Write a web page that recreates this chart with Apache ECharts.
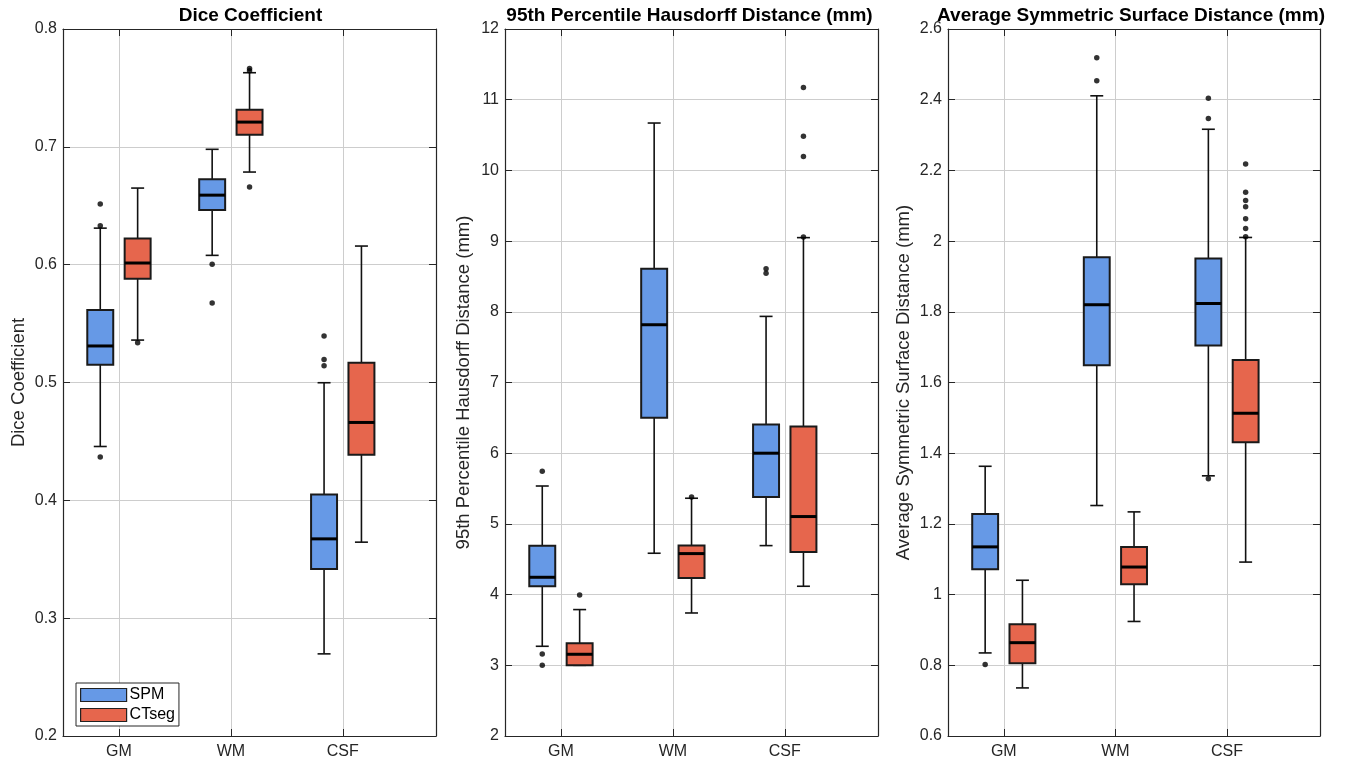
<!DOCTYPE html>
<html>
<head>
<meta charset="utf-8">
<script src="https://cdn.jsdelivr.net/npm/echarts@6/dist/echarts.min.js"></script>
<style>
html,body{margin:0;padding:0;background:#fff;}
#chart{width:1346px;height:763px;}
</style>
</head>
<body>
<div id="chart"></div>
<script>
// ---------------- data ----------------
const categories = ['GM', 'WM', 'CSF'];
const groups = ['SPM', 'CTseg'];
const titles = ['Dice Coefficient', '95th Percentile Hausdorff Distance (mm)', 'Average Symmetric Surface Distance (mm)'];
const yNames = ['Dice Coefficient', '95th Percentile Hausdorff Distance (mm)', 'Average Symmetric Surface Distance (mm)'];
const yMin = [0.2, 2, 0.6];
const yMax = [0.8, 12, 2.6];
const yStep = [0.1, 1, 0.2];

// box stats per category: [lower whisker, Q1, median, Q3, upper whisker]
const diceSPM = [[0.4457, 0.515, 0.531, 0.5615, 0.631], [0.6079, 0.6463, 0.659, 0.6724, 0.6979], [0.2697, 0.3418, 0.3673, 0.405, 0.4998]];
const diceCT = [[0.536, 0.588, 0.6014, 0.6223, 0.665], [0.6786, 0.7103, 0.721, 0.7315, 0.7629], [0.3645, 0.4386, 0.4661, 0.5167, 0.6158]];
const diceSPMOut = [[0.6514, 0.633, 0.4367], [0.6003, 0.5674], [0.5394, 0.5196, 0.5142]];
const diceCTOut = [[0.5337], [0.7665, 0.7645, 0.6659], []];

const hdSPM = [[3.269, 4.117, 4.245, 4.692, 5.536], [4.585, 6.5, 7.817, 8.61, 10.67], [4.693, 5.382, 6.0, 6.406, 7.935]];
const hdCT = [[3.0, 3.0, 3.156, 3.311, 3.788], [3.74, 4.236, 4.58, 4.693, 5.363], [4.118, 4.604, 5.104, 6.377, 9.049]];
const hdSPMOut = [[5.744, 3.16, 3.0], [], [8.61, 8.546]];
const hdCTOut = [[3.995], [5.38], [11.174, 10.483, 10.196, 9.058]];

const asSPM = [[0.835, 1.0717, 1.135, 1.2283, 1.363], [1.252, 1.649, 1.82, 1.954, 2.411], [1.336, 1.705, 1.8235, 1.951, 2.3164]];
const asCT = [[0.736, 0.806, 0.864, 0.916, 1.0406], [0.924, 1.029, 1.078, 1.135, 1.234], [1.092, 1.431, 1.513, 1.664, 2.0103]];
const asSPMOut = [[0.802], [2.519, 2.4535], [2.404, 2.347, 1.328]];
const asCTOut = [[], [], [2.218, 2.138, 2.1146, 2.097, 2.063, 2.0357, 2.012]];

// ---------------- style / layout ----------------
const BLUE = '#6699E6';
const RED = '#E6664D';
const AXIS = '#262626';
const GRIDC = '#cdcdcd';
const FONT = 'Liberation Sans, Arial, Helvetica, sans-serif';
const OFFSET = [-0.167, 0.167];
const BOX_HALF = 0.116;
const CAP_HALF = 0.058;
const grids = [
  {left: 63, top: 29, width: 373, height: 707},
  {left: 505, top: 29, width: 373, height: 707},
  {left: 948, top: 29, width: 372, height: 707}
];
const titleShift = [-4, -7, -8];
const nameGaps = [35, 32, 35];
const X_MIN = 0.5, X_MAX = 3.8333;

const panels = [
  {stats: [diceSPM, diceCT], outs: [diceSPMOut, diceCTOut]},
  {stats: [hdSPM, hdCT], outs: [hdSPMOut, hdCTOut]},
  {stats: [asSPM, asCT], outs: [asSPMOut, asCTOut]}
];

function renderBox(params, api) {
  const x = api.value(0);
  const lo = api.value(1), q1 = api.value(2), md = api.value(3), q3 = api.value(4), hi = api.value(5);
  const color = api.visual('color');
  const tl = api.coord([x - BOX_HALF, q3]);
  const br = api.coord([x + BOX_HALF, q1]);
  const cx = api.coord([x, md])[0];
  const yMd = api.coord([x, md])[1];
  const yLo = api.coord([x, lo])[1];
  const yHi = api.coord([x, hi])[1];
  const cL = api.coord([x - CAP_HALF, lo])[0];
  const cR = api.coord([x + CAP_HALF, lo])[0];
  const wStyle = {stroke: '#111', lineWidth: 1.6};
  return {
    type: 'group',
    children: [
      {type: 'line', shape: {x1: cx, y1: yHi, x2: cx, y2: tl[1]}, style: wStyle},
      {type: 'line', shape: {x1: cx, y1: br[1], x2: cx, y2: yLo}, style: wStyle},
      {type: 'line', shape: {x1: cL, y1: yHi, x2: cR, y2: yHi}, style: wStyle},
      {type: 'line', shape: {x1: cL, y1: yLo, x2: cR, y2: yLo}, style: wStyle},
      {type: 'rect', shape: {x: tl[0], y: tl[1], width: br[0] - tl[0], height: br[1] - tl[1]},
        style: {fill: color, stroke: '#1a1a1a', lineWidth: 2}},
      {type: 'line', shape: {x1: tl[0], y1: yMd, x2: br[0], y2: yMd}, style: {stroke: '#000', lineWidth: 3}}
    ]
  };
}

const option = {
  animation: false,
  backgroundColor: '#fff',
  textStyle: {fontFamily: FONT},
  title: titles.map((t, i) => ({
    text: t,
    left: grids[i].left + grids[i].width / 2 + titleShift[i],
    textAlign: 'center',
    top: 1,
    textStyle: {fontSize: 19, fontWeight: 'bold', color: '#000', fontFamily: FONT}
  })),
  legend: {
    data: groups,
    orient: 'vertical',
    left: 76,
    top: 683,
    padding: [4, 4, 3, 4],
    itemWidth: 46,
    itemHeight: 13,
    itemGap: 4,
    icon: 'rect',
    borderColor: AXIS,
    borderWidth: 1,
    backgroundColor: '#fff',
    itemStyle: {borderColor: '#222', borderWidth: 1.2},
    textStyle: {fontSize: 16, color: '#000', fontFamily: FONT, padding: [0, 0, 0, -2]},
    selectedMode: false
  },
  grid: grids,
  xAxis: [],
  yAxis: [],
  series: []
};

for (let i = 0; i < 3; i++) {
  option.xAxis.push({
    type: 'value', gridIndex: i, position: 'bottom', min: X_MIN, max: X_MAX,
    axisLine: {show: true, lineStyle: {color: AXIS, width: 1.2}},
    axisTick: {show: true, inside: true, length: 7, customValues: [1, 2, 3], lineStyle: {color: AXIS}},
    axisLabel: {customValues: [1, 2, 3], formatter: v => categories[Math.round(v) - 1] || '',
      fontSize: 16, color: AXIS, margin: 8, fontFamily: FONT},
    splitLine: {show: true, lineStyle: {color: GRIDC, width: 1}}
  });
  option.xAxis.push({
    type: 'value', gridIndex: i, position: 'top', min: X_MIN, max: X_MAX,
    axisLine: {show: true, lineStyle: {color: AXIS, width: 1.2}},
    axisTick: {show: true, inside: true, length: 7, customValues: [1, 2, 3], lineStyle: {color: AXIS}},
    axisLabel: {show: false},
    splitLine: {show: false}
  });
  option.yAxis.push({
    type: 'value', gridIndex: i, position: 'left', min: yMin[i], max: yMax[i], interval: yStep[i],
    name: yNames[i], nameLocation: 'middle', nameGap: nameGaps[i], nameRotate: 90,
    nameTextStyle: {fontSize: 18.5, color: AXIS, fontFamily: FONT},
    axisLine: {show: true, lineStyle: {color: AXIS, width: 1.2}},
    axisTick: {show: true, inside: true, length: 7, lineStyle: {color: AXIS}},
    axisLabel: {fontSize: 16, color: AXIS, margin: 6, fontFamily: FONT,
      formatter: v => String(Math.round(v * 1000) / 1000)},
    splitLine: {show: true, lineStyle: {color: GRIDC, width: 1}}
  });
  option.yAxis.push({
    type: 'value', gridIndex: i, position: 'right', min: yMin[i], max: yMax[i], interval: yStep[i],
    axisLine: {show: true, lineStyle: {color: AXIS, width: 1.2}},
    axisTick: {show: true, inside: true, length: 7, lineStyle: {color: AXIS}},
    axisLabel: {show: false},
    splitLine: {show: false}
  });

  for (let g = 0; g < 2; g++) {
    const stats = panels[i].stats[g];
    const outs = panels[i].outs[g];
    option.series.push({
      name: groups[g],
      type: 'custom',
      xAxisIndex: i * 2, yAxisIndex: i * 2,
      itemStyle: {color: g === 0 ? BLUE : RED},
      renderItem: renderBox,
      z: 3,
      data: stats.map((s, c) => [c + 1 + OFFSET[g]].concat(s))
    });
    const pts = [];
    outs.forEach((arr, c) => arr.forEach(v => pts.push([c + 1 + OFFSET[g], v])));
    option.series.push({
      name: groups[g] + ' outliers',
      type: 'scatter',
      xAxisIndex: i * 2, yAxisIndex: i * 2,
      symbol: 'circle', symbolSize: 5.5,
      itemStyle: {color: '#000'},
      z: 4,
      data: pts
    });
  }
}

const chart = echarts.init(document.getElementById('chart'), null, {renderer: 'canvas'});
chart.setOption(option);
</script>
</body>
</html>
